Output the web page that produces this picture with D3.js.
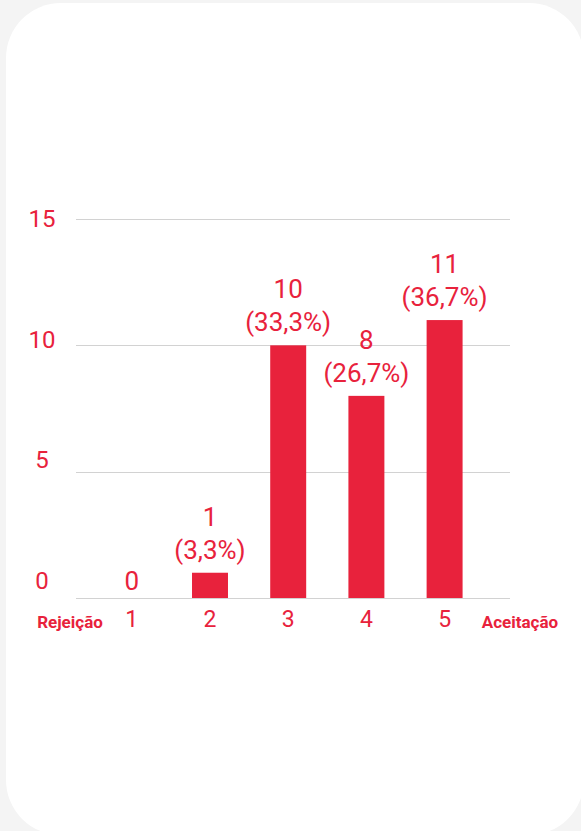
<!DOCTYPE html>
<html>
<head>
<meta charset="utf-8">
<script src="https://cdn.jsdelivr.net/npm/d3@7"></script>
<style>
  html, body { margin: 0; padding: 0; background: #f4f4f4; overflow: hidden; }
  svg { display: block; }
  text { font-family: Roboto, "Noto Sans", sans-serif; }
</style>
</head>
<body>
<svg id="chart" width="581" height="831"></svg>
<script>
// ---- data ----
const categories = ["1", "2", "3", "4", "5"];
const counts = [0, 1, 10, 8, 11];
const percentLabels = ["", "(3,3%)", "(33,3%)", "(26,7%)", "(36,7%)"];
const yTicks = [0, 5, 10, 15];
const leftEndLabel = "Rejeição";
const rightEndLabel = "Aceitação";

const RED = "#e8223c";
const svg = d3.select("#chart");

// card
svg.append("rect")
  .attr("x", 6).attr("y", 3).attr("width", 578).attr("height", 832)
  .attr("rx", 55).attr("ry", 55).attr("fill", "#ffffff");

const x = d3.scaleBand().domain(categories).range([92.7, 483.7])
  .paddingInner(0.54).paddingOuter(0.27).align(0.5);
const y = d3.scaleLinear().domain([0, 15]).range([598, 219]);
// tick labels in the original sit on a slightly compressed spacing
const yLabel = d3.scaleLinear().domain([0, 15]).range([581, 219]);

// gridlines
svg.append("g").selectAll("line").data(yTicks).join("line")
  .attr("x1", 76).attr("x2", 510)
  .attr("y1", d => Math.round(y(d)) + 0.5).attr("y2", d => Math.round(y(d)) + 0.5)
  .attr("stroke", "#d2d2d2").attr("stroke-width", 1);

// y tick labels
svg.append("g").selectAll("text").data(yTicks).join("text")
  .attr("x", 42).attr("y", d => yLabel(d))
  .attr("text-anchor", "middle").attr("dominant-baseline", "central")
  .attr("font-size", 24).attr("fill", RED)
  .text(d => d);

// bars
const rows = categories.map((c, i) => ({ c, v: counts[i], p: percentLabels[i] }));
svg.append("g").selectAll("rect").data(rows.filter(d => d.v > 0)).join("rect")
  .attr("x", d => x(d.c)).attr("width", x.bandwidth())
  .attr("y", d => y(d.v)).attr("height", d => y(0) - y(d.v))
  .attr("fill", RED);

// value labels
const lab = svg.append("g").selectAll("g").data(rows).join("g");
lab.append("text")
  .attr("x", d => x(d.c) + x.bandwidth() / 2)
  .attr("y", d => d.p ? y(d.v) - 47 : y(d.v) - 8)
  .attr("text-anchor", "middle").attr("font-size", 26).attr("fill", RED)
  .text(d => d.v);
lab.filter(d => d.p).append("text")
  .attr("x", d => x(d.c) + x.bandwidth() / 2)
  .attr("y", d => y(d.v) - 14)
  .attr("text-anchor", "middle").attr("font-size", 26).attr("fill", RED)
  .text(d => d.p);

// x axis labels
svg.append("g").selectAll("text").data(categories).join("text")
  .attr("x", d => x(d) + x.bandwidth() / 2).attr("y", 627)
  .attr("text-anchor", "middle").attr("font-size", 23).attr("fill", RED)
  .text(d => d);

svg.append("text").attr("x", 70).attr("y", 628).attr("text-anchor", "middle")
  .attr("font-size", 17).attr("font-weight", "bold").attr("fill", RED)
  .text(leftEndLabel);
svg.append("text").attr("x", 520).attr("y", 628).attr("text-anchor", "middle")
  .attr("font-size", 17).attr("font-weight", "bold").attr("fill", RED)
  .text(rightEndLabel);
</script>
</body>
</html>
